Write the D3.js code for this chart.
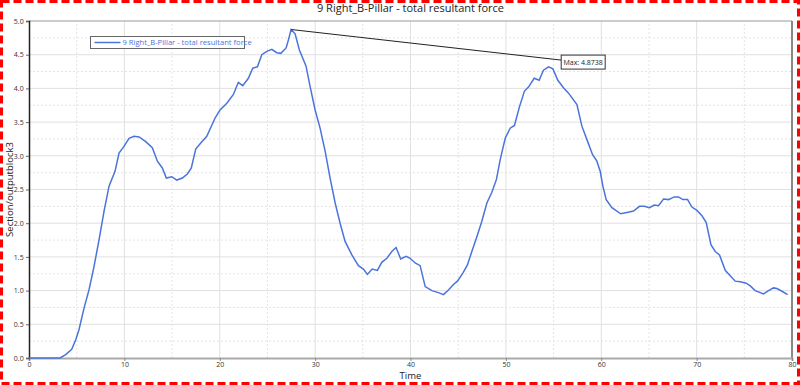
<!DOCTYPE html>
<html>
<head>
<meta charset="utf-8">
<script src="https://cdn.jsdelivr.net/npm/d3@7"></script>
<style>
  html, body { margin: 0; padding: 0; background: #fff; }
  svg { display: block; font-family: "Open Sans", "Noto Sans", sans-serif; }
</style>
</head>
<body>
<svg id="chart" width="800" height="385"></svg>
<script>
// Chart Data
const seriesName = "9 Right_B-Pillar - total resultant force";
const times = [0, 3.25, 3.85, 4.48, 4.9, 5.24, 5.77, 6.29, 6.82, 7.34, 7.87, 8.39, 9.02, 9.44, 9.96,
  10.49, 11.01, 11.54, 12.24, 12.93, 13.46, 13.98, 14.4, 14.97, 15.49, 16.08, 16.6, 17.02, 17.48,
  18.01, 18.64, 19.51, 20.03, 20.74, 21.43, 21.95, 22.41, 23.0, 23.46, 23.95, 24.41, 24.93, 25.46,
  25.98, 26.4, 26.96, 27.2, 27.48, 27.9, 28.35, 29.05, 29.47, 30.0, 30.52, 31.05, 31.57, 32.1,
  32.62, 33.14, 33.85, 34.54, 35.06, 35.48, 35.98, 36.53, 36.99, 37.52, 38.04, 38.49, 38.97,
  39.54, 39.96, 40.49, 41.01, 41.54, 42.24, 42.93, 43.46, 43.98, 44.5, 44.92, 45.49, 45.97,
  46.43, 46.96, 47.48, 48.01, 48.53, 49.01, 49.4, 49.93, 50.45, 50.9, 51.43, 51.95, 52.37, 52.97,
  53.49, 53.94, 54.47, 54.93, 55.45, 56.04, 56.57, 57.45, 57.97, 58.5, 59.08, 59.54, 59.89,
  60.17, 60.52, 61.12, 62.04, 62.69, 63.38, 64.01, 64.51, 65.06, 65.56, 66.0, 66.53, 67.05,
  67.65, 68.1, 68.56, 69.05, 69.51, 70.03, 70.56, 71.01, 71.5, 71.95, 72.4, 73.0, 73.52, 74.05,
  74.57, 75.2, 75.62, 76.14, 77.02, 77.54, 78.06, 78.42, 78.95, 79.54];
const forces = [0, 0, 0.05, 0.13, 0.27, 0.42, 0.74, 1.01, 1.36, 1.75, 2.18, 2.55, 2.77, 3.04, 3.14,
  3.26, 3.29, 3.28, 3.21, 3.12, 2.92, 2.82, 2.67, 2.69, 2.64, 2.67, 2.73, 2.82, 3.1,
  3.19, 3.29, 3.56, 3.68, 3.78, 3.91, 4.09, 4.04, 4.15, 4.3, 4.32, 4.5, 4.55, 4.58,
  4.53, 4.52, 4.6, 4.72, 4.8738, 4.81, 4.57, 4.33, 4.03, 3.68, 3.41, 3.07, 2.67, 2.3,
  2.0, 1.73, 1.53, 1.37, 1.32, 1.24, 1.32, 1.3, 1.42, 1.48, 1.58, 1.64, 1.47,
  1.51, 1.48, 1.41, 1.37, 1.06, 1.0, 0.97, 0.94, 1.01, 1.09, 1.14, 1.26, 1.38,
  1.58, 1.8, 2.03, 2.3, 2.46, 2.65, 2.94, 3.26, 3.41, 3.45, 3.73, 3.96, 4.02, 4.15,
  4.12, 4.27, 4.32, 4.29, 4.12, 4.01, 3.93, 3.76, 3.44, 3.24, 3.02, 2.92, 2.77,
  2.55, 2.35, 2.23, 2.14, 2.16, 2.18, 2.25, 2.25, 2.23, 2.27, 2.26, 2.36, 2.35,
  2.39, 2.39, 2.35, 2.35, 2.24, 2.19, 2.11, 2.01, 1.68, 1.58, 1.53, 1.3, 1.22, 1.14,
  1.13, 1.11, 1.07, 1.0, 0.95, 1.0, 1.04, 1.03, 0.99, 0.94];
const xTicks = [0, 10, 20, 30, 40, 50, 60, 70, 80];
const yTicks = [0, 0.5, 1.0, 1.5, 2.0, 2.5, 3.0, 3.5, 4.0, 4.5, 5.0];
// where the max label sits, in data units
const maxLabelAt = [55.8, 4.42];

const svg = d3.select("#chart");
const margin = { top: 21, right: 8, bottom: 27, left: 29 };
const width = 800, height = 385;

const x = d3.scaleLinear().domain([0, 80]).range([margin.left, width - margin.right]);
const y = d3.scaleLinear().domain([0, 5]).range([height - margin.bottom, margin.top]);

// Page border
svg.append("rect")
  .attr("x", 1.5).attr("y", 1.5)
  .attr("width", width - 3).attr("height", height - 3)
  .attr("fill", "none")
  .attr("stroke", "#ff0000")
  .attr("stroke-width", 3)
  .attr("stroke-dasharray", "8,4");

// Title
svg.append("text")
  .attr("x", x(40)).attr("y", 12)
  .attr("text-anchor", "middle")
  .attr("font-size", 11)
  .attr("fill", "#222")
  .text(seriesName);

// Grid
const grid = svg.append("g");
d3.range(5, 80, 10).forEach(t => {
  grid.append("line").attr("x1", x(t)).attr("x2", x(t))
    .attr("y1", y(0)).attr("y2", y(5))
    .attr("stroke", "#e4e4e4").attr("stroke-dasharray", "2,2");
});
d3.range(0.25, 5, 0.5).forEach(v => {
  grid.append("line").attr("x1", x(0)).attr("x2", x(80))
    .attr("y1", y(v)).attr("y2", y(v))
    .attr("stroke", "#e4e4e4").attr("stroke-dasharray", "2,2");
});
xTicks.slice(1, -1).forEach(t => {
  grid.append("line").attr("x1", x(t)).attr("x2", x(t))
    .attr("y1", y(0)).attr("y2", y(5))
    .attr("stroke", "#e0e0e0");
});
yTicks.slice(1, -1).forEach(v => {
  grid.append("line").attr("x1", x(0)).attr("x2", x(80))
    .attr("y1", y(v)).attr("y2", y(v))
    .attr("stroke", "#e0e0e0");
});

// Frame
svg.append("line").attr("x1", x(0)).attr("x2", x(80)).attr("y1", y(5)).attr("y2", y(5))
  .attr("stroke", "#999");
svg.append("line").attr("x1", x(80)).attr("x2", x(80)).attr("y1", y(5)).attr("y2", y(0))
  .attr("stroke", "#888").attr("stroke-width", 2);

// Axes
const xAxis = svg.append("g")
  .attr("transform", `translate(0,${y(0)})`)
  .call(d3.axisBottom(x).tickValues(xTicks).tickSize(3).tickFormat(d3.format("d")));
xAxis.select(".domain").attr("stroke", "#aaa").attr("stroke-width", 2);
xAxis.selectAll(".tick line").attr("stroke", "#888");
xAxis.selectAll("text").attr("font-size", 7).attr("fill", "#333")
  .attr("font-family", "Open Sans, sans-serif").attr("dy", "0.45em");

const yAxis = svg.append("g")
  .attr("transform", `translate(${x(0)},0)`)
  .call(d3.axisLeft(y).tickValues(yTicks).tickSize(3).tickFormat(d3.format(".1f")));
yAxis.select(".domain").attr("stroke", "#222").attr("stroke-width", 1.5);
yAxis.selectAll(".tick line").attr("stroke", "#666");
yAxis.selectAll("text").attr("font-size", 7).attr("fill", "#333")
  .attr("font-family", "Open Sans, sans-serif").attr("dx", "0.1em");

// Axis titles
svg.append("text")
  .attr("x", (x(0) + x(80)) / 2).attr("y", 378.5)
  .attr("text-anchor", "middle")
  .attr("font-size", 9.5)
  .attr("fill", "#222")
  .text("Time");
svg.append("text")
  .attr("transform", `translate(12.5,${(y(0) + y(5)) / 2}) rotate(-90)`)
  .attr("text-anchor", "middle")
  .attr("font-size", 9.5)
  .attr("fill", "#222")
  .text("Section/outputblock3");

// Series line
const data = times.map((t, i) => ({ t, v: forces[i] }));
const line = d3.line().x(d => x(d.t)).y(d => y(d.v));
svg.append("path")
  .datum(data)
  .attr("d", line)
  .attr("fill", "none")
  .attr("stroke", "#4a74dc")
  .attr("stroke-width", 1.5);

// Max annotation
const maxPt = data.reduce((a, b) => (b.v > a.v ? b : a));
const lx = x(maxLabelAt[0]), ly = y(maxLabelAt[1]);
svg.append("line")
  .attr("x1", x(maxPt.t)).attr("y1", y(maxPt.v))
  .attr("x2", lx).attr("y2", ly)
  .attr("stroke", "#222").attr("stroke-width", 1);
const maxLabel = svg.append("g").attr("transform", `translate(${lx},${ly - 5})`);
maxLabel.append("rect")
  .attr("width", 44).attr("height", 14)
  .attr("fill", "#fff").attr("stroke", "#333");
maxLabel.append("text")
  .attr("x", 22).attr("y", 10)
  .attr("text-anchor", "middle")
  .attr("font-size", 7)
  .attr("fill", "#222")
  .text("Max: " + maxPt.v.toFixed(4));

// Legend
const legend = svg.append("g").attr("transform", `translate(90.5,36.5)`);
legend.append("rect")
  .attr("width", 154).attr("height", 12)
  .attr("fill", "#fff").attr("stroke", "#666");
legend.append("line")
  .attr("x1", 4).attr("x2", 30).attr("y1", 6).attr("y2", 6)
  .attr("stroke", "#4a74dc").attr("stroke-width", 1.5);
legend.append("text")
  .attr("x", 32).attr("y", 8.8)
  .attr("font-size", 7.6)
  .attr("fill", "#4a74dc")
  .text(seriesName);
</script>
</body>
</html>
